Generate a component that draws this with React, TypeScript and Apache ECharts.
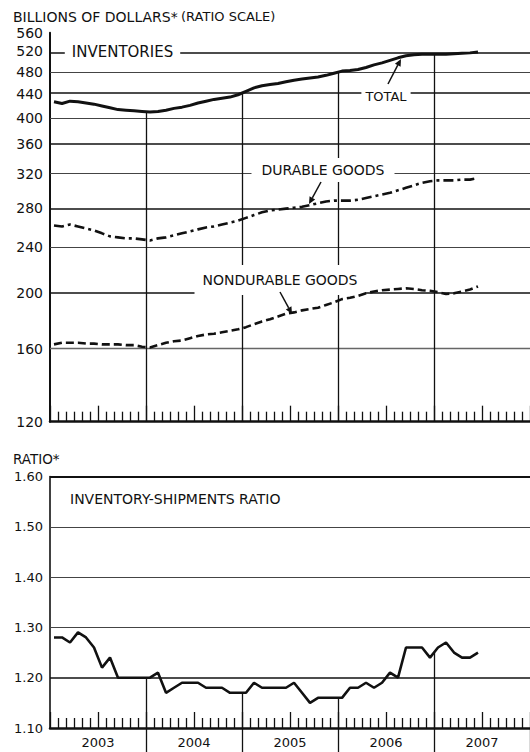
import React, { useEffect, useRef } from "react";
import * as echarts from "echarts";

// ---------- data ----------
const years = ["2003", "2004", "2005", "2006", "2007"];
const inventoryTicks = [120, 160, 200, 240, 280, 320, 360, 400, 440, 480, 520, 560];
const ratioTicks = [1.1, 1.2, 1.3, 1.4, 1.5, 1.6];
const yearBoundaries = [12, 24, 36, 48]; // month index where a new year starts

// monthly values, Jan 2003 .. Jun 2007 (billions of dollars)
const total = [
  426, 423, 427, 426, 424, 422, 419, 416, 413, 412, 411, 410,
  409, 410, 412, 415, 417, 420, 424, 427, 430, 432, 434, 438,
  444, 450, 454, 456, 458, 461, 464, 466, 468, 470, 473, 477,
  481, 482, 484, 488, 493, 497, 502, 507, 511, 513, 514, 514,
  514, 514, 515, 516, 517, 519,
];
const durable = [
  261, 260, 262, 260, 258, 256, 253, 250, 249, 248, 248, 247,
  246, 248, 249, 251, 253, 255, 257, 259, 260, 262, 264, 266,
  269, 272, 275, 277, 278, 279, 280, 281, 283, 285, 287, 288,
  288, 288, 289, 291, 293, 295, 297, 300, 303, 306, 309, 311,
  312, 312, 312, 313, 313, 315,
];
const nondurable = [
  163, 164, 164, 164, 163.5, 163.5, 163, 163, 163, 162.5, 162.5, 161.5,
  161, 162.5, 164, 165, 165.5, 167, 168.5, 169.5, 170, 171, 172, 173,
  174.5, 176.5, 178.5, 180, 182, 184, 185, 186.5, 187.5, 188.5, 190.5, 192.5,
  195, 196, 197.5, 199.5, 201, 202, 202.5, 203, 203.5, 203, 202, 201.5,
  200.5, 199, 199.5, 201, 202.5, 205,
];
const ratio = [
  1.28, 1.28, 1.27, 1.29, 1.28, 1.26, 1.22, 1.24, 1.2, 1.2, 1.2, 1.2,
  1.2, 1.21, 1.17, 1.18, 1.19, 1.19, 1.19, 1.18, 1.18, 1.18, 1.17, 1.17,
  1.17, 1.19, 1.18, 1.18, 1.18, 1.18, 1.19, 1.17, 1.15, 1.16, 1.16, 1.16,
  1.16, 1.18, 1.18, 1.19, 1.18, 1.19, 1.21, 1.2, 1.26, 1.26, 1.26, 1.24,
  1.26, 1.27, 1.25, 1.24, 1.24, 1.25,
];

const FONT = "DejaVu Sans";
const INK = "#111";

function arrow(x1: number, y1: number, x2: number, y2: number) {
  const a = Math.atan2(y2 - y1, x2 - x1);
  const L = 7, W = 3.2;
  const bx = x2 - L * Math.cos(a), by = y2 - L * Math.sin(a);
  const px = -Math.sin(a) * W, py = Math.cos(a) * W;
  return [
    { type: "line", z: 6, shape: { x1, y1, x2: bx, y2: by }, style: { stroke: INK, lineWidth: 1.5 } },
    { type: "polygon", z: 6, shape: { points: [[x2, y2], [bx + px, by + py], [bx - px, by - py]] }, style: { fill: INK } },
  ];
}

function label(x: number, y: number, text: string, fontSize: number, align: string, padding?: number[]) {
  return {
    type: "text",
    z: 3,
    x,
    y,
    style: {
      text,
      fontSize,
      fontFamily: FONT,
      fill: INK,
      align,
      verticalAlign: "middle",
      backgroundColor: padding ? "#fff" : undefined,
      padding: padding,
    },
  };
}

export default function App() {
  const ref = useRef<HTMLDivElement>(null);

  useEffect(() => {
    if (!ref.current) return;
    const chart = echarts.init(ref.current, undefined, { renderer: "svg" });

    const heavy = { color: INK, width: 1.6, type: "solid" };
    const thin = { color: "#444", width: 1, type: "solid" };
    const grey = { color: "#666", width: 1.3, type: "solid" };
    const border = { color: INK, width: 2, type: "solid" };

    const invLineStyle = (v: number, i: number) => {
      if (v === 560) return border;
      if (v === 160) return grey;
      return i % 2 === 0 ? heavy : thin;
    };

    const geoMid = (arr: number[], b: number) => Math.sqrt(arr[b - 1] * arr[b]);
    const mid = (arr: number[], b: number) => (arr[b - 1] + arr[b]) / 2;

    const invGrid = inventoryTicks
      .filter((v) => v !== 120)
      .map((v) => ({ yAxis: Math.log(v), lineStyle: invLineStyle(v, inventoryTicks.indexOf(v)) }));
    const invYears = yearBoundaries.map((b) => [
      { coord: [b, Math.log(geoMid(total, b))], lineStyle: { color: INK, width: 1.3, type: "solid" } },
      { coord: [b, Math.log(120)] },
    ]);

    const ratioGrid = ratioTicks
      .filter((v) => v > 1.15)
      .map((v) => ({
        yAxis: v,
        lineStyle: Math.abs(v - 1.6) < 1e-6 ? border : Math.abs(v - 1.2) < 1e-6 ? heavy : thin,
      }));
    const ratioYears = yearBoundaries.map((b) => [
      { coord: [b, mid(ratio, b)], lineStyle: { color: INK, width: 1.3, type: "solid" } },
      { coord: [b, 1.1] },
    ]);

    const monthAxis = (gridIndex: number) => ({
      type: "value",
      gridIndex,
      min: 0,
      max: 60,
      interval: 6,
      axisLine: { show: true, onZero: false, lineStyle: { color: INK, width: 2.5 } },
      axisTick: { show: true, inside: true, length: 16, lineStyle: { color: INK, width: 1.3 } },
      minorTick: { show: true, splitNumber: 6, length: 10, lineStyle: { color: INK, width: 1.3 } },
      axisLabel: { show: false },
      splitLine: { show: false },
      minorSplitLine: { show: false },
    });

    const lineSeries = (name: string, values: number[], xi: number, yi: number, width: number, type: any, transform: (v: number) => number, markLine?: any) => ({
      name,
      type: "line",
      xAxisIndex: xi,
      yAxisIndex: yi,
      data: values.map((v, i) => [i + 0.5, transform(v)]),
      showSymbol: false,
      symbol: "none",
      silent: true,
      z: 5,
      lineStyle: { color: INK, width, type, cap: "butt" },
      markLine,
    });

    const mlBase = {
      silent: true,
      symbol: ["none", "none"],
      z: 1,
      label: { show: false },
      emphasis: { disabled: true },
      animation: false,
    };

    const option: any = {
      animation: false,
      grid: [
        { left: 50, top: 32.7, width: 489, height: 389, containLabel: false },
        { left: 50, top: 476.5, width: 489, height: 251.5, containLabel: false },
      ],
      xAxis: [
        monthAxis(0),
        monthAxis(1),
        {
          type: "category",
          gridIndex: 1,
          position: "bottom",
          data: years,
          boundaryGap: true,
          axisLine: { show: false },
          axisTick: {
            show: true,
            length: 24,
            interval: (idx: number) => idx !== 0,
            lineStyle: { color: INK, width: 1.3 },
          },
          axisLabel: { fontSize: 13, margin: 8, color: INK, fontFamily: FONT },
          splitLine: { show: false },
        },
      ],
      yAxis: [
        {
          type: "value",
          gridIndex: 0,
          min: Math.log(120),
          max: Math.log(560),
          axisLine: { show: true, lineStyle: { color: INK, width: 2 } },
          axisTick: { show: false },
          splitLine: { show: false },
          axisLabel: {
            customValues: inventoryTicks.map((v) => Math.log(v)),
            formatter: (v: number) => String(Math.round(Math.exp(v))),
            fontSize: 14,
            color: INK,
            fontFamily: FONT,
            margin: 7,
          },
        },
        {
          type: "value",
          gridIndex: 1,
          min: 1.1,
          max: 1.6,
          axisLine: { show: true, lineStyle: { color: INK, width: 1.6 } },
          axisTick: { show: false },
          splitLine: { show: false },
          axisLabel: {
            customValues: ratioTicks,
            formatter: (v: number) => v.toFixed(2),
            fontSize: 13,
            color: INK,
            fontFamily: FONT,
            margin: 7,
          },
        },
      ],
      series: [
        lineSeries("Total", total, 0, 0, 3, "solid", Math.log, { ...mlBase, data: [...invGrid, ...invYears] }),
        lineSeries("Durable goods", durable, 0, 0, 2.6, [10, 4, 3, 4], Math.log),
        lineSeries("Nondurable goods", nondurable, 0, 0, 2.6, [8, 4], Math.log),
        lineSeries("Inventory-shipments ratio", ratio, 1, 1, 2.6, "solid", (v) => v, { ...mlBase, data: [...ratioGrid, ...ratioYears] }),
      ],
      graphic: {
        elements: [
          {
            type: "text",
            z: 3,
            x: 13,
            y: 16.5,
            style: {
              text: "{a|BILLIONS OF DOLLARS*} {b|(RATIO SCALE)}",
              fill: INK,
              verticalAlign: "middle",
              rich: {
                a: { fontSize: 14, fontFamily: FONT, fill: INK },
                b: { fontSize: 13, fontFamily: FONT, fill: INK },
              },
            },
          },
          label(122.5, 52, "INVENTORIES", 15, "center", [3, 7]),
          label(386, 96, "TOTAL", 13, "center", [2, 4]),
          label(323, 170, "DURABLE GOODS", 14, "center", [5, 10]),
          label(280, 280, "NONDURABLE GOODS", 14, "center", [8, 8]),
          label(13, 459, "RATIO*", 13.5, "left"),
          label(70, 499, "INVENTORY-SHIPMENTS RATIO", 14, "left"),
          ...arrow(388, 84, 401, 59),
          ...arrow(321, 182, 309, 204),
          ...arrow(280, 292, 292, 314),
        ],
      },
    };

    chart.setOption(option);
    return () => chart.dispose();
  }, []);

  return (
    <div
      ref={ref}
      style={{ position: "absolute", left: 0, top: 0, width: 530, height: 752, background: "#fff" }}
    />
  );
}
